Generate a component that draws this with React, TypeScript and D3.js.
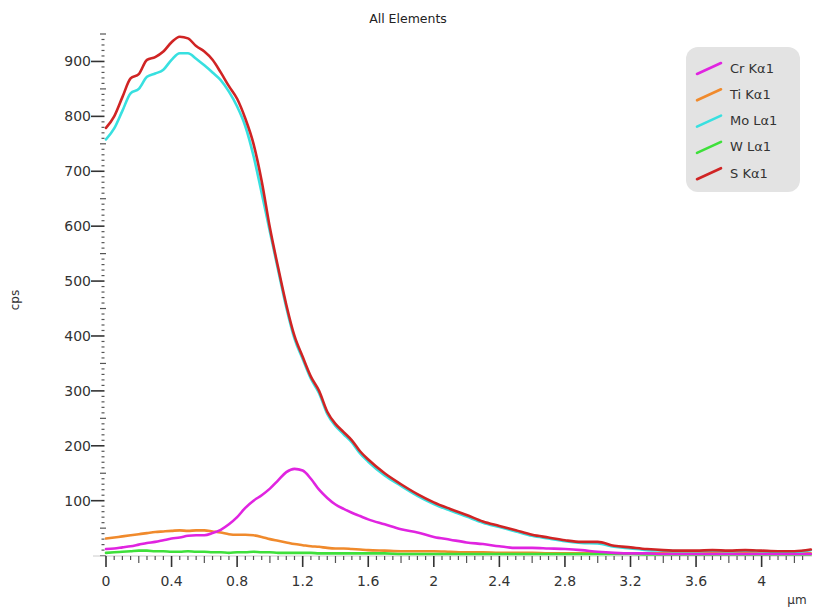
import React from 'react';
import * as d3 from 'd3';

// distance along the line scan (µm)
const positions = [
  0, 0.05, 0.1, 0.15, 0.2, 0.25, 0.3, 0.35, 0.4, 0.45, 0.5, 0.55, 0.6, 0.65, 0.7, 0.75, 0.8,
  0.85, 0.9, 0.95, 1.0, 1.05, 1.1, 1.15, 1.2, 1.25, 1.3, 1.35, 1.4, 1.45, 1.5, 1.55, 1.6,
  1.7, 1.8, 1.9, 2.0, 2.1, 2.2, 2.3, 2.4, 2.5, 2.6, 2.7, 2.8, 2.9, 3.0, 3.1, 3.2, 3.3,
  3.4, 3.5, 3.6, 3.7, 3.8, 3.9, 4.0, 4.1, 4.2, 4.3,
];

const crK = [
  12, 13, 15, 17, 20, 23, 25, 28, 31, 33, 36, 37, 37, 41, 47, 57, 70,
  87, 100, 110, 122, 137, 152, 158, 155, 140, 120, 105, 93, 85, 78, 72, 66,
  57, 48, 42, 34, 29, 24, 21, 17, 14, 14, 13, 12, 10, 7, 5, 4, 4,
  3, 3, 3, 3, 3, 3, 3, 3, 3, 3,
];

const tiK = [
  31, 33, 35, 37, 39, 41, 43, 44, 45, 46, 45, 46, 46, 44, 42, 39, 38,
  38, 37, 34, 30, 27, 24, 21, 19, 17, 16, 14, 13, 13, 12, 11, 10,
  9, 8, 8, 8, 7, 6, 6, 5, 5, 5, 4, 4, 4, 4, 4, 4, 4,
  4, 4, 4, 4, 4, 4, 4, 4, 4, 4,
];

const moL = [
  758, 778, 810, 842, 850, 872, 878, 885, 903, 915, 915, 905, 893, 880, 866, 845, 818,
  782, 728, 660, 590, 520, 452, 395, 358, 322, 296, 258, 236, 221, 206, 186, 171,
  146, 127, 109, 94, 82, 71, 60, 52, 44, 36, 31, 26, 23, 22, 16, 13, 10,
  9, 8, 8, 9, 8, 9, 8, 7, 7, 10,
];

const wL = [
  5, 6, 7, 8, 9, 9, 8, 8, 7, 7, 8, 7, 7, 6, 6, 5, 6,
  6, 7, 6, 6, 5, 5, 5, 5, 5, 4, 4, 4, 4, 4, 4, 4,
  4, 3, 3, 3, 3, 3, 3, 3, 3, 3, 3, 3, 3, 3, 3, 3, 2,
  2, 2, 2, 2, 2, 2, 2, 2, 2, 2,
];

const sK = [
  779, 800, 835, 869, 877, 903, 908, 918, 935, 945, 942, 928, 918, 903, 880, 855, 832,
  796, 750, 682, 597, 525, 457, 400, 362, 326, 300, 262, 240, 225, 210, 190, 175,
  150, 130, 112, 97, 85, 74, 62, 54, 46, 38, 33, 28, 25, 25, 18, 15, 12,
  10, 9, 9, 10, 9, 10, 9, 8, 8, 11,
];

const seriesNames = ['Cr Kα1', 'Ti Kα1', 'Mo Lα1', 'W Lα1', 'S Kα1'];
const seriesColors = ['#e024e0', '#f08a2c', '#38e0e0', '#3ee03a', '#d02424'];
const seriesValues = [crK, tiK, moL, wL, sK];
// drawing order: small ones first, S on top
const drawOrder = [1, 3, 0, 2, 4];

const yTickLabels = [100, 200, 300, 400, 500, 600, 700, 800, 900];
const xTickLabels = [0, 0.4, 0.8, 1.2, 1.6, 2, 2.4, 2.8, 3.2, 3.6, 4];

const W = 814;
const H = 608;
const font = "'DejaVu Sans', sans-serif";

export default function App() {
  const x = d3.scaleLinear().domain([0, 4.3]).range([106, 810.8]);
  const y = d3.scaleLinear().domain([0, 950]).range([555.6, 34]);

  const line = d3.line<[number, number]>()
    .x(d => x(d[0]))
    .y(d => y(d[1]))
    .curve(d3.curveMonotoneX);

  const yMinor = d3.range(0, 951, 10);
  const xMinor = d3.range(0, 86).map(i => i * 0.05);
  const axisX = 103;
  const axisY = 556;

  return (
    <svg width={W} height={H} style={{ position: 'absolute', left: 0, top: 0, background: '#fff' }}>
      <text x={408} y={23} textAnchor="middle" fontFamily={font} fontSize={12.5} fill="#222">All Elements</text>

      {/* y axis */}
      <g>
        {yMinor.map(v => {
          const major = v % 100 === 0 && v > 0;
          const mid = v % 50 === 0;
          const x1 = major ? axisX - 12 : mid ? axisX - 3 : axisX - 1.5;
          const x2 = major ? axisX + 1.5 : mid ? axisX + 3 : axisX + 1.5;
          return (
            <line key={'ym' + v} x1={x1} x2={x2} y1={y(v)} y2={y(v)}
              stroke={major ? '#333' : '#555'} strokeWidth={major ? 1.6 : 1.2} />
          );
        })}
        {yTickLabels.map(v => (
          <text key={'yl' + v} x={axisX - 12} y={y(v)} dy="0.35em" textAnchor="end"
            fontFamily={font} fontSize={14} fill="#333">{v}</text>
        ))}
        <text transform={`translate(19,300) rotate(-90)`} textAnchor="middle"
          fontFamily={font} fontSize={12} fill="#333">cps</text>
      </g>

      {/* x axis */}
      <g>
        <line x1={93} x2={812} y1={axisY} y2={axisY} stroke="#ccc" strokeWidth={1} />
        {xMinor.map((v, i) => {
          const major = i % 8 === 0;
          const mid = i % 4 === 0;
          const len = major ? 11 : mid ? 7 : 4;
          return (
            <line key={'xm' + i} x1={x(v)} x2={x(v)} y1={axisY} y2={axisY + len}
              stroke={major ? '#333' : '#555'} strokeWidth={major ? 1.6 : 1.2} />
          );
        })}
        {xTickLabels.map(v => (
          <text key={'xl' + v} x={x(v)} y={581} dy="0.35em" textAnchor="middle"
            fontFamily={font} fontSize={14} fill="#333">{v}</text>
        ))}
        <text x={797} y={604} textAnchor="middle" fontFamily={font} fontSize={12} fill="#333">µm</text>
      </g>

      {/* series */}
      <g fill="none" strokeLinejoin="round" strokeLinecap="round">
        {drawOrder.map(si => (
          <path key={seriesNames[si]}
            d={line(positions.map((p, i) => [p, seriesValues[si][i]] as [number, number])) || ''}
            stroke={seriesColors[si]} strokeWidth={2.6} />
        ))}
      </g>

      {/* legend */}
      <g>
        <rect x={686} y={47} width={114} height={145} rx={12} fill="#e3e3e3" />
        {seriesNames.map((n, i) => {
          const cy = 68 + i * 26.3;
          return (
            <g key={'lg' + n}>
              <line x1={697} y1={cy + 6} x2={721} y2={cy - 5} stroke={seriesColors[i]} strokeWidth={2.6} strokeLinecap="round" />
              <text x={730} y={cy} dy="0.35em" fontFamily={font} fontSize={13} fill="#333">{n}</text>
            </g>
          );
        })}
      </g>
    </svg>
  );
}
